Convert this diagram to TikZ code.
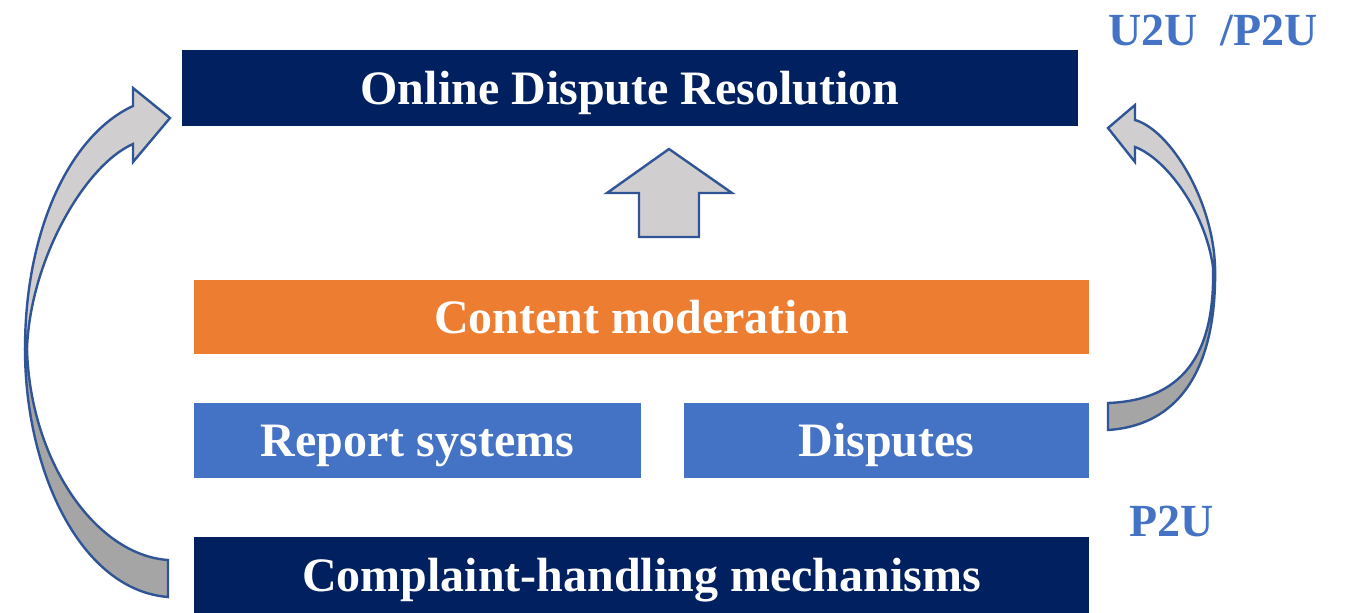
\documentclass[tikz,border=0pt]{standalone}
\usepackage{fontspec}
\setmainfont{Liberation Serif}
\definecolor{navy}{HTML}{002060}
\definecolor{orng}{HTML}{ED7D31}
\definecolor{blu}{HTML}{4472C4}
\definecolor{arrlight}{HTML}{D0CECE}
\definecolor{arrdark}{HTML}{A5A5A5}
\definecolor{arrline}{HTML}{2F5597}
\tikzset{
  box/.style={draw=none, text=white, inner sep=0pt, text height=30pt, text depth=5.5pt,
    font=\bfseries\fontsize{36}{40}\selectfont},
  lbl/.style={text=blu, inner sep=0pt, font=\bfseries\fontsize{34.5}{40}\selectfont},
  shp/.style={draw=arrline, line width=1.8pt, line join=miter},
}
\begin{document}
\begin{tikzpicture}[x=0.75pt,y=-0.75pt]
\useasboundingbox (0,0) rectangle (1351,613);
% boxes
\node[box, fill=navy, minimum width=672pt, minimum height=57pt] (odr) at (630,88) {Online Dispute Resolution};
\node[box, fill=orng, minimum width=671.25pt, minimum height=55.5pt] (cm) at (641.5,317) {Content moderation};
\node[box, fill=blu, minimum width=335.25pt, minimum height=56.25pt] (rep) at (417.5,440.5) {Report systems};
\node[box, fill=blu, minimum width=303.75pt, minimum height=56.25pt] (dis) at (886.5,440.5) {Disputes};
\node[box, fill=navy, minimum width=671.25pt, minimum height=57pt] (chm) at (641.5,575) {Complaint-handling mechanisms};
% labels
\node[lbl] (u2u) at (1213,30) {U2U\ \ /P2U};
\node[lbl] (p2u) at (1172,521) {P2U};
% up block arrow
\draw[shp, fill=arrlight] (639,237) -- (639,193) -- (607,193) -- (669,149) -- (732,193) -- (699,193) -- (699,237) -- cycle;
% left curved arrow: back (dark) part
\draw[shp, fill=arrdark] (25,349) .. controls (25,470) and (80,590) .. (168,597) -- (168,560)
  .. controls (95,555) and (30,460) .. (27,349) -- cycle;
% left curved arrow: front (light) part
\draw[shp, fill=arrlight] (25,349) .. controls (25,230) and (70,135) .. (133,106) -- (133,88) -- (170,118) -- (133,162) -- (133,144)
  .. controls (85,165) and (30,260) .. (27,349) -- cycle;
% right curved arrow: back (dark) part
\draw[shp, fill=arrdark] (1215,267) .. controls (1217,360) and (1185,425) .. (1108,430) -- (1108,403)
  .. controls (1190,400) and (1215,345) .. (1213,267) -- cycle;
% right curved arrow: front (light) part
\draw[shp, fill=arrlight] (1215,267) .. controls (1213,200) and (1170,130) .. (1135,120) -- (1135,105) -- (1108,128) -- (1135,162) -- (1135,147)
  .. controls (1165,158) and (1205,210) .. (1213,267) -- cycle;
\end{tikzpicture}
\end{document}
